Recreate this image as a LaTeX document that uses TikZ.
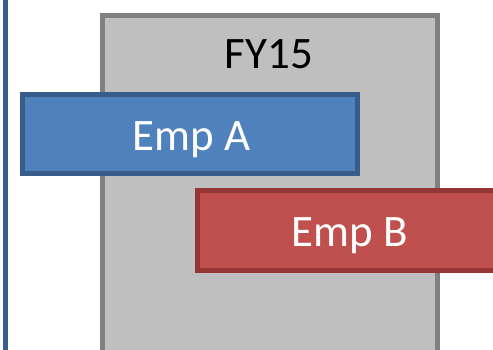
\documentclass[tikz,border=0pt]{standalone}
\usepackage{fontspec}
\setmainfont{Carlito}
\definecolor{grayfill}{HTML}{BFBFBF}
\definecolor{grayline}{HTML}{808080}
\definecolor{bluefill}{HTML}{4F81BD}
\definecolor{blueline}{HTML}{385D8A}
\definecolor{redfill}{HTML}{C0504D}
\definecolor{redline}{HTML}{943634}
\tikzset{
  bar/.style={rectangle, line width=5pt, inner sep=0pt, outer sep=0pt},
  lbl/.style={anchor=base, inner sep=0pt, font=\fontsize{45}{54}\selectfont}
}
\begin{document}
\begin{tikzpicture}[x=1pt,y=-1pt]
\clip (0,0) rectangle (493,349);
\fill[white] (0,0) rectangle (493,349);
\coordinate (ltop) at (5.5,-10);
\coordinate (lbot) at (5.5,360);
\draw[blueline, line width=5pt] (ltop) -- (lbot);
\node[bar, draw=grayline, fill=grayfill, minimum width=335pt, minimum height=404.5pt] (fy) at (270,217.75) {};
\node[lbl, text=black] (fyl) at (269,68.3) {FY15};
\node[bar, draw=blueline, fill=bluefill, minimum width=335.5pt, minimum height=79pt] (ea) at (189.75,134) {};
\node[lbl, text=white] (eal) at (191.5,150.7) {Emp A};
\node[bar, draw=redline, fill=redfill, minimum width=304pt, minimum height=80pt] (eb) at (349.8,230.8) {};
\node[lbl, text=white] (ebl) at (350,246.7) {Emp B};
\end{tikzpicture}
\end{document}
